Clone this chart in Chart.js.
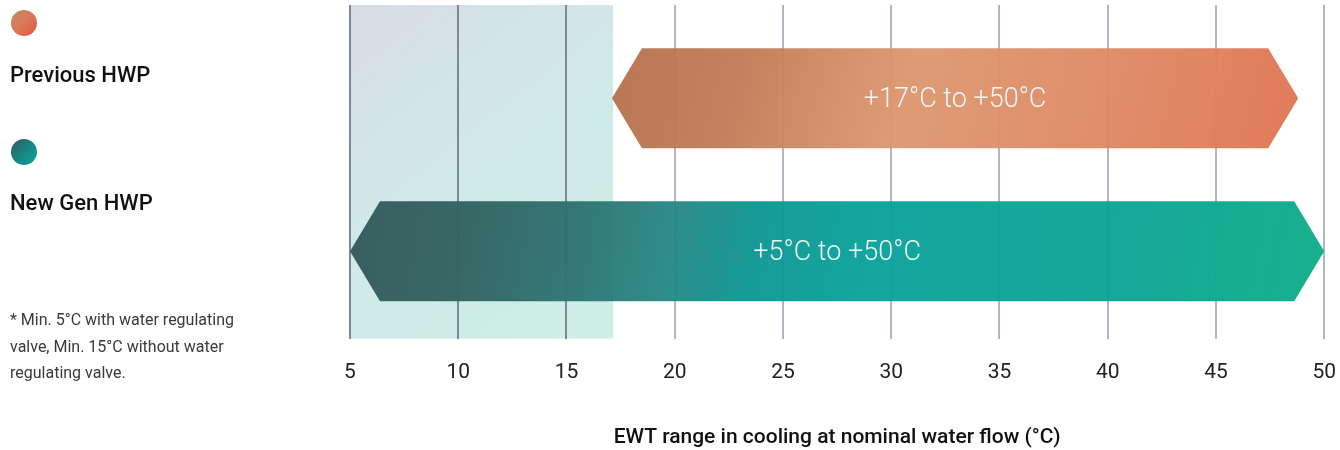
<!DOCTYPE html>
<html>
<head>
<meta charset="utf-8">
<script src="https://cdn.jsdelivr.net/npm/chart.js"></script>
<style>
  html, body { margin: 0; padding: 0; background: #fff; }
  body { width: 1340px; height: 450px; position: relative; overflow: hidden; font-family: Roboto, "Noto Sans", sans-serif; }
  #wrap { position: absolute; left: 0; top: 0; width: 1340px; height: 450px; }
  .dot { position: absolute; left: 11px; width: 26px; height: 26px; border-radius: 50%; }
  .lab { position: absolute; left: 10px; font-size: 22px; line-height: 26px; font-weight: 500; color: #111; white-space: nowrap; }
  .note { position: absolute; left: 10px; top: 307px; width: 250px; font-size: 16px; line-height: 26.5px; color: #3a3a3a; font-weight: 400; }
</style>
</head>
<body>
<div id="wrap"><canvas id="c" width="1340" height="450" style="width:1340px;height:450px;"></canvas></div>
<div class="dot" style="top:10px;background:linear-gradient(135deg,#c6875e 0%,#d9795a 50%,#e2553e 100%);"></div>
<div class="lab" id="lab0" style="top:62px;"></div>
<div class="dot" style="top:139px;background:linear-gradient(135deg,#2f5c5d 0%,#1a8582 50%,#07a89c 100%);"></div>
<div class="lab" id="lab1" style="top:190px;"></div>
<div class="note">* Min. 5°C with water regulating valve, Min. 15°C without water regulating valve.</div>
<script>
const seriesNames = ["Previous HWP", "New Gen HWP"];
const rangeStart = [17.1, 5];
const rangeEnd = [48.8, 50];
const barLabels = ["+17°C to +50°C", "+5°C to +50°C"];
const rowPositions = [0, 1];
const shadeRange = [5, 17.15];
const xTicks = [5, 10, 15, 20, 25, 30, 35, 40, 45, 50];
const axisTitle = "EWT range in cooling at nominal water flow (°C)";

document.getElementById('lab0').textContent = seriesNames[0];
document.getElementById('lab1').textContent = seriesNames[1];

const barStops = [
  [[0, '#b5704d'], [0.2, '#c27c58'], [0.43, '#dc9870'], [0.7, '#de8a64'], [1, '#e07452']],
  [[0, '#325859'], [0.12, '#32615f'], [0.25, '#2d7573'], [0.33, '#278885'], [0.42, '#0d9794'], [0.52, '#0aa19b'], [0.8, '#0ca594'], [1, '#0eae88']]
];

const shadePlugin = {
  id: 'shade',
  beforeDraw(chart) {
    const { ctx, chartArea, scales } = chart;
    const x0 = scales.x.getPixelForValue(shadeRange[0]);
    const x1 = scales.x.getPixelForValue(shadeRange[1]);
    const g = ctx.createLinearGradient(x0, chartArea.top, x1, chartArea.bottom);
    g.addColorStop(0, '#d7dde0');
    g.addColorStop(0.5, '#cfeae8');
    g.addColorStop(1, '#cdeee5');
    ctx.save();
    ctx.fillStyle = g;
    ctx.fillRect(x0, chartArea.top, x1 - x0, chartArea.bottom - chartArea.top);
    ctx.restore();
  }
};

const arrowPlugin = {
  id: 'arrows',
  afterDatasetsDraw(chart) {
    const { ctx } = chart;
    const meta = chart.getDatasetMeta(0);
    meta.data.forEach((el, i) => {
      const left = Math.min(el.x, el.base);
      const right = Math.max(el.x, el.base);
      const h = el.height;
      const top = el.y - h / 2, bot = el.y + h / 2;
      const tip = 30;
      const g = ctx.createLinearGradient(left, top - 40, right, bot + 40);
      barStops[i].forEach(s => g.addColorStop(s[0], s[1]));
      ctx.save();
      ctx.globalAlpha = 0.96;
      ctx.fillStyle = g;
      ctx.beginPath();
      ctx.moveTo(left, el.y);
      ctx.lineTo(left + tip, top);
      ctx.lineTo(right - tip, top);
      ctx.lineTo(right, el.y);
      ctx.lineTo(right - tip, bot);
      ctx.lineTo(left + tip, bot);
      ctx.closePath();
      ctx.fill();
      ctx.globalAlpha = 1;
      ctx.fillStyle = 'rgba(255,255,255,0.92)';
      ctx.font = '300 27px Roboto';
      ctx.textAlign = 'center';
      ctx.textBaseline = 'middle';
      ctx.fillText(barLabels[i], (left + right) / 2, el.y + 2);
      ctx.restore();
    });
  }
};

new Chart(document.getElementById('c'), {
  type: 'bar',
  data: {
    datasets: [{
      data: rowPositions.map((p, i) => ({ y: p, x: [rangeStart[i], rangeEnd[i]] })),
      backgroundColor: 'rgba(0,0,0,0)',
      borderWidth: 0,
      barThickness: 100
    }]
  },
  options: {
    indexAxis: 'y',
    responsive: false,
    animation: false,
    devicePixelRatio: 1,
    layout: { padding: { left: 350, right: 12, top: 5, bottom: 0 } },
    plugins: { legend: { display: false }, tooltip: { enabled: false } },
    scales: {
      x: {
        type: 'linear',
        min: xTicks[0],
        max: xTicks[xTicks.length - 1],
        afterBuildTicks(scale) { scale.ticks = xTicks.map(v => ({ value: v })); },
        border: { display: false },
        grid: {
          drawTicks: true,
          tickLength: 18,
          tickColor: 'rgba(0,0,0,0)',
          lineWidth: 2,
          color: ctx => (ctx.tick && ctx.tick.value < shadeRange[1]) ? '#7f8698' : '#b3b5c7'
        },
        ticks: { padding: 4, color: '#222', font: { family: 'Roboto', size: 21 } },
        title: {
          display: true,
          text: axisTitle,
          color: '#111',
          font: { family: 'Roboto', size: 21, weight: 500 },
          padding: { top: 35, bottom: 0 }
        }
      },
      y: {
        type: 'linear',
        reverse: true,
        offset: false,
        min: -0.61,
        max: 1.57,
        display: false
      }
    }
  },
  plugins: [shadePlugin, arrowPlugin]
});
</script>
</body>
</html>
